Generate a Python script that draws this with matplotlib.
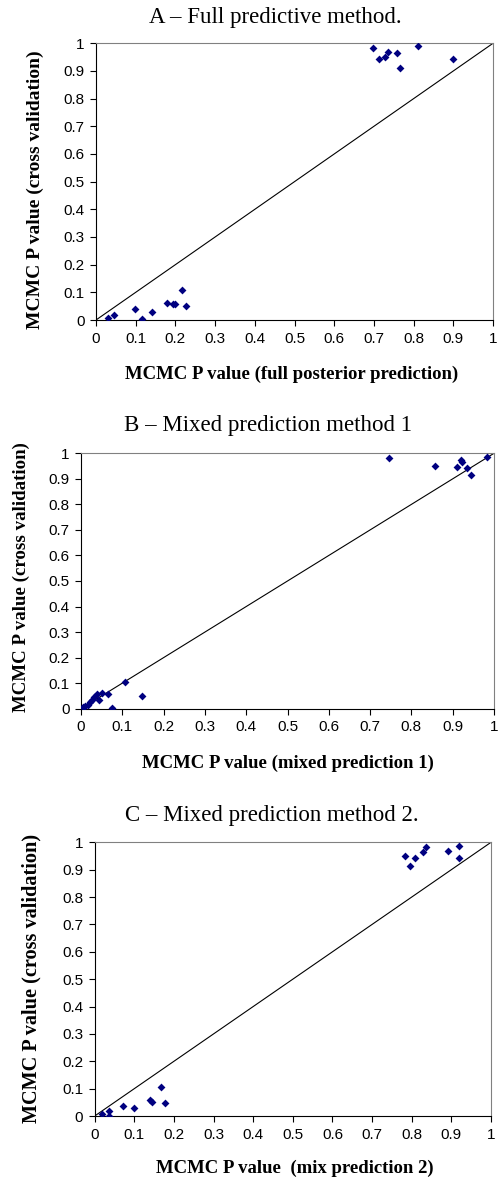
import matplotlib.pyplot as plt
import numpy as np

# Panel A - full posterior prediction vs cross validation
a_x = [0.698, 0.713, 0.727, 0.735, 0.758, 0.765, 0.811, 0.898,
       0.029, 0.045, 0.097, 0.116, 0.142, 0.179, 0.195, 0.200, 0.216, 0.226]
a_y = [0.984, 0.942, 0.949, 0.970, 0.966, 0.912, 0.990, 0.943,
       0.009, 0.018, 0.039, 0.004, 0.030, 0.061, 0.057, 0.057, 0.107, 0.050]

# Panel B - mixed prediction 1
b_x = [0.746, 0.858, 0.910, 0.920, 0.923, 0.935, 0.944, 0.984,
       0.006, 0.010, 0.016, 0.022, 0.027, 0.031, 0.038, 0.044, 0.050,
       0.065, 0.075, 0.106, 0.148]
b_y = [0.982, 0.949, 0.945, 0.972, 0.965, 0.941, 0.915, 0.987,
       0.006, 0.010, 0.016, 0.026, 0.036, 0.044, 0.056, 0.034, 0.060,
       0.058, 0.004, 0.105, 0.051]

# Panel C - mixed prediction 2
c_x = [0.783, 0.796, 0.807, 0.828, 0.835, 0.892, 0.918, 0.920,
       0.019, 0.037, 0.037, 0.071, 0.098, 0.140, 0.144, 0.167, 0.177]
c_y = [0.949, 0.914, 0.942, 0.964, 0.983, 0.969, 0.988, 0.942,
       0.007, 0.020, 0.001, 0.038, 0.030, 0.057, 0.052, 0.106, 0.049]

ticks = [0, 0.1, 0.2, 0.3, 0.4, 0.5, 0.6, 0.7, 0.8, 0.9, 1]
tick_labels = ['0', '0.1', '0.2', '0.3', '0.4', '0.5', '0.6', '0.7', '0.8', '0.9', '1']

W, H = 500, 1181
fig = plt.figure(figsize=(W / 100, H / 100), dpi=100)

serif = 'Liberation Serif'
sans = 'Liberation Sans'


def panel(px_box, xs, ys, title, title_pos, xlabel, xlabel_pos, ylabel_pos, ylabel_size):
    left, right, top, bottom = px_box
    ax = fig.add_axes([left / W, (H - bottom) / H, (right - left) / W, (bottom - top) / H])
    ax.plot([0, 1], [0, 1], color='black', lw=0.8, zorder=2)
    ax.scatter(xs, ys, marker='D', s=16, color='#000080', zorder=3, linewidths=0)
    ax.set_xlim(0, 1)
    ax.set_ylim(0, 1)
    ax.set_xticks(ticks)
    ax.set_xticklabels(tick_labels, family=sans, fontsize=11)
    ax.set_yticks(ticks)
    ax.set_yticklabels(tick_labels, family=sans, fontsize=11)
    ax.tick_params(axis='x', direction='out', length=4.3, width=0.8, pad=4)
    ax.tick_params(axis='y', direction='out', length=4.3, width=0.8, pad=4)
    for s in ['top', 'right']:
        ax.spines[s].set_color('#808080')
        ax.spines[s].set_linewidth(0.8)
    for s in ['left', 'bottom']:
        ax.spines[s].set_linewidth(0.8)
    fig.text(title_pos[0] / W, 1 - title_pos[1] / H, title, family=serif,
             fontsize=16.5, ha='center', va='center')
    fig.text(xlabel_pos[0] / W, 1 - xlabel_pos[1] / H, xlabel, family=serif,
             fontsize=13.5, fontweight='bold', ha='center', va='center')
    fig.text(ylabel_pos[0] / W, 1 - ylabel_pos[1] / H, 'MCMC P value (cross validation)',
             family=serif, fontsize=ylabel_size, fontweight='bold', rotation=90,
             ha='center', va='center')
    return ax


panel((96, 493, 43.3, 320), a_x, a_y, 'A \u2013 Full predictive method.', (275, 18),
      'MCMC P value (full posterior prediction)', (292, 374), (35, 190), 14)
panel((81, 494, 453.3, 708.7), b_x, b_y, 'B \u2013 Mixed prediction method 1', (268, 425),
      'MCMC P value (mixed prediction 1)', (288, 763), (21, 577), 13.6)
panel((94.7, 491, 842.3, 1116), c_x, c_y, 'C \u2013 Mixed prediction method 2.', (272, 815),
      'MCMC P value  (mix prediction 2)', (295, 1168), (31, 978), 14.6)

fig.savefig('out.png', dpi=100)
